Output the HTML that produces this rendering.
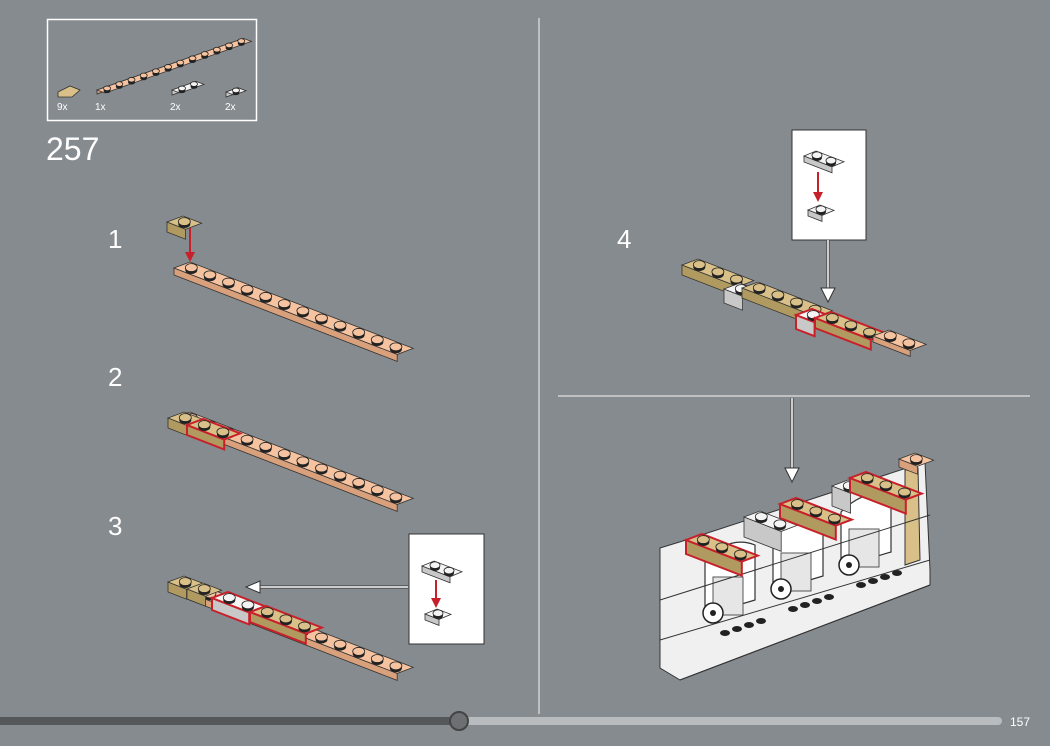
<!DOCTYPE html>
<html><head><meta charset="utf-8"><style>
html,body{margin:0;padding:0;background:#868b8f;width:1050px;height:746px;overflow:hidden}
svg{display:block}
text{font-family:"Liberation Sans",sans-serif;fill:#fff}
</style></head><body>
<svg id="s" width="1050" height="746" xmlns="http://www.w3.org/2000/svg">
<rect width="1050" height="746" fill="#868b8f"/>
<rect x="47.5" y="19.5" width="209" height="101" fill="none" stroke="#fff" stroke-width="1.5"/>
<text x="57" y="110" font-size="10">9x</text>
<text x="95" y="110" font-size="10">1x</text>
<text x="170" y="110" font-size="10">2x</text>
<text x="225" y="110" font-size="10">2x</text>
<text x="46" y="160" font-size="32" font-weight="300">257</text>
<text x="108" y="248" font-size="26">1</text>
<text x="108" y="386" font-size="26">2</text>
<text x="108" y="535" font-size="26">3</text>
<text x="617" y="248" font-size="26">4</text>
<line x1="539" y1="18" x2="539" y2="714" stroke="#d0d2d4" stroke-width="1.5"/>
<line x1="558" y1="396" x2="1030" y2="396" stroke="#d0d2d4" stroke-width="1.5"/>
<line x1="0" y1="721" x2="460" y2="721" stroke="#55585b" stroke-width="8" stroke-linecap="round"/>
<line x1="460" y1="721" x2="998" y2="721" stroke="#b9bcbf" stroke-width="8" stroke-linecap="round"/>
<circle cx="459" cy="721" r="9" fill="#6c7073" stroke="#444" stroke-width="2"/>
<text x="1010" y="726" font-size="12">157</text>
<g id="g"></g>
<line x1="408" y1="587" x2="255" y2="587" stroke="#333" stroke-width="3"/>
<line x1="408" y1="587" x2="255" y2="587" stroke="#fff" stroke-width="1.5"/>
<polygon points="246,587 260,581 260,593" fill="#fff" stroke="#333"/>
<line x1="828" y1="240" x2="828" y2="292" stroke="#333" stroke-width="3"/>
<line x1="828" y1="240" x2="828" y2="292" stroke="#fff" stroke-width="1.5"/>
<polygon points="828,302 821,288 835,288" fill="#fff" stroke="#333"/>
<line x1="792" y1="398" x2="792" y2="470" stroke="#333" stroke-width="3"/>
<line x1="792" y1="398" x2="792" y2="470" stroke="#fff" stroke-width="1.5"/>
<polygon points="792,482 785,468 799,468" fill="#fff" stroke="#333"/>
</svg>
<script>
var g=document.getElementById('g'),NS='http://www.w3.org/2000/svg';
function el(t,a){var e=document.createElementNS(NS,t);for(var k in a)e.setAttribute(k,a[k]);g.appendChild(e);return e;}
var PE='#f6c3a0',PES='#d9a07c',TA='#d8c088',TAS='#b09a60',WH='#f4f4f4',WHS='#c8c8c8';
function plate(x,y,n,col,side,th,red,dx,dy,wx,wy,r){
 dx=dx||18.6;dy=(dy===undefined)?7.2:dy;wx=wx||16;wy=(wy===undefined)?-6:wy;th=th||7;r=r||6;
 var ex=x+dx*n,ey=y+dy*n;
 var p=[[x,y],[x+wx,y+wy],[ex+wx,ey+wy],[ex,ey]];
 el('polygon',{points:[p[0],p[3],[ex,ey+th],[x,y+th]].join(' '),fill:side,stroke:red?'#c8202a':'#333','stroke-width':red?2:0.8});
 el('polygon',{points:p.join(' '),fill:col,stroke:red?'#c8202a':'#333','stroke-width':red?2:0.8});
 for(var i=0;i<n;i++){var cx=x+dx*(i+0.5)+wx/2,cy=y+dy*(i+0.5)+wy/2;
  el('ellipse',{cx:cx,cy:cy+1.5,rx:r,ry:r*0.66,fill:'#222'});
  el('ellipse',{cx:cx,cy:cy-1,rx:r,ry:r*0.66,fill:col,stroke:'#222','stroke-width':0.8});}
}
function box(x,y,w,h){el('rect',{x:x,y:y,width:w,height:h,fill:'#fff',stroke:'#333'});}
// parts list
plate(97,90,12,PE,PES,4,0,12.2,-4.3,8,3,3.5);
el('polygon',{points:'58,92 70,86 80,90 72,97 58,97',fill:TA,stroke:'#333','stroke-width':0.8});
plate(172,90,2,WH,WHS,5,0,12,-4.3,8,3,3.5);
plate(226,92,1,WH,WHS,5,0,12,-4.3,8,3,3.5);
// step1
plate(174,268,12,PE,PES);
plate(167,222,1,TA,TAS,10);
el('line',{x1:190,y1:228,x2:190,y2:256,stroke:'#c8202a','stroke-width':2});
el('polygon',{points:'190,262 185,252 195,252',fill:'#c8202a'});
// step2
plate(174,418,12,PE,PES);
plate(168,418,1,TA,TAS,10);
plate(187,425,2,TA,TAS,10,1);
// step3
plate(174,587,12,PE,PES);
plate(168,582,1,TA,TAS,10);
plate(187,589,1,TA,TAS,10);
plate(212,598,2,WH,WHS,12,1);
plate(250,612,3,TA,TAS,10,1);
box(409,534,75,110);
plate(422,566,2,WH,WHS,6,0,14,5.4,12,-5,5);plate(425,614,1,WH,WHS,6,0,14,5.4,12,-5,5);
el('line',{x1:436,y1:580,x2:436,y2:602,stroke:'#c8202a','stroke-width':2});
el('polygon',{points:'436,608 431,598 441,598',fill:'#c8202a'});
// step4
plate(682,265,3,TA,TAS,10);
plate(724,289,1,WH,WHS,14);
plate(742,288,4,TA,TAS,10);
plate(796,315,1,WH,WHS,14,1);
plate(815,318,3,TA,TAS,10,1);
plate(873,336,2,PE,PES,6);
box(792,130,74,110);
plate(804,156,2,WH,WHS,6,0,14,5.4,12,-5,5);plate(808,210,1,WH,WHS,6,0,14,5.4,12,-5,5);
el('line',{x1:818,y1:172,x2:818,y2:196,stroke:'#c8202a','stroke-width':2});
el('polygon',{points:'818,202 813,192 823,192',fill:'#c8202a'});
// big assembly
el('polygon',{points:'660,548 686,540 925,462 930,570 930,585 680,680 660,668',fill:'#f0f0f0',stroke:'#333','stroke-width':1});
el('polygon',{points:'905,470 918,468 920,560 905,565',fill:'#d8c088',stroke:'#333','stroke-width':1});
for(var k=0;k<3;k++){var bx=705+k*68,by=585-k*24;
 el('path',{d:'M'+bx+' '+(by-25)+' q25 -25 50 -15 l0 55 l-50 15 z',fill:'#fff',stroke:'#333','stroke-width':1.2});
 el('rect',{x:bx+8,y:by-8,width:30,height:38,fill:'#e6e6e6',stroke:'#555'});
 el('circle',{cx:bx+8,cy:by+28,r:10,fill:'#fff',stroke:'#222','stroke-width':1.5});
 el('circle',{cx:bx+8,cy:by+28,r:3,fill:'#222'});
 for(var j=0;j<4;j++)el('ellipse',{cx:bx+20+j*12,cy:by+48-j*4,rx:5,ry:3,fill:'#222'});
}
el('polyline',{points:'660,600 930,515',fill:'none',stroke:'#333'});
el('polyline',{points:'660,640 930,560',fill:'none',stroke:'#333'});
el('polyline',{points:'680,680 930,585',fill:'none',stroke:'#333'});
plate(686,540,3,TA,TAS,14,1);
plate(744,517,2,WH,WHS,20);
plate(780,504,3,TA,TAS,14,1);
plate(832,486,1,WH,WHS,20);
plate(850,478,3,TA,TAS,14,1);
plate(899,459,1,PE,PES,8);
</script>
</body></html>
